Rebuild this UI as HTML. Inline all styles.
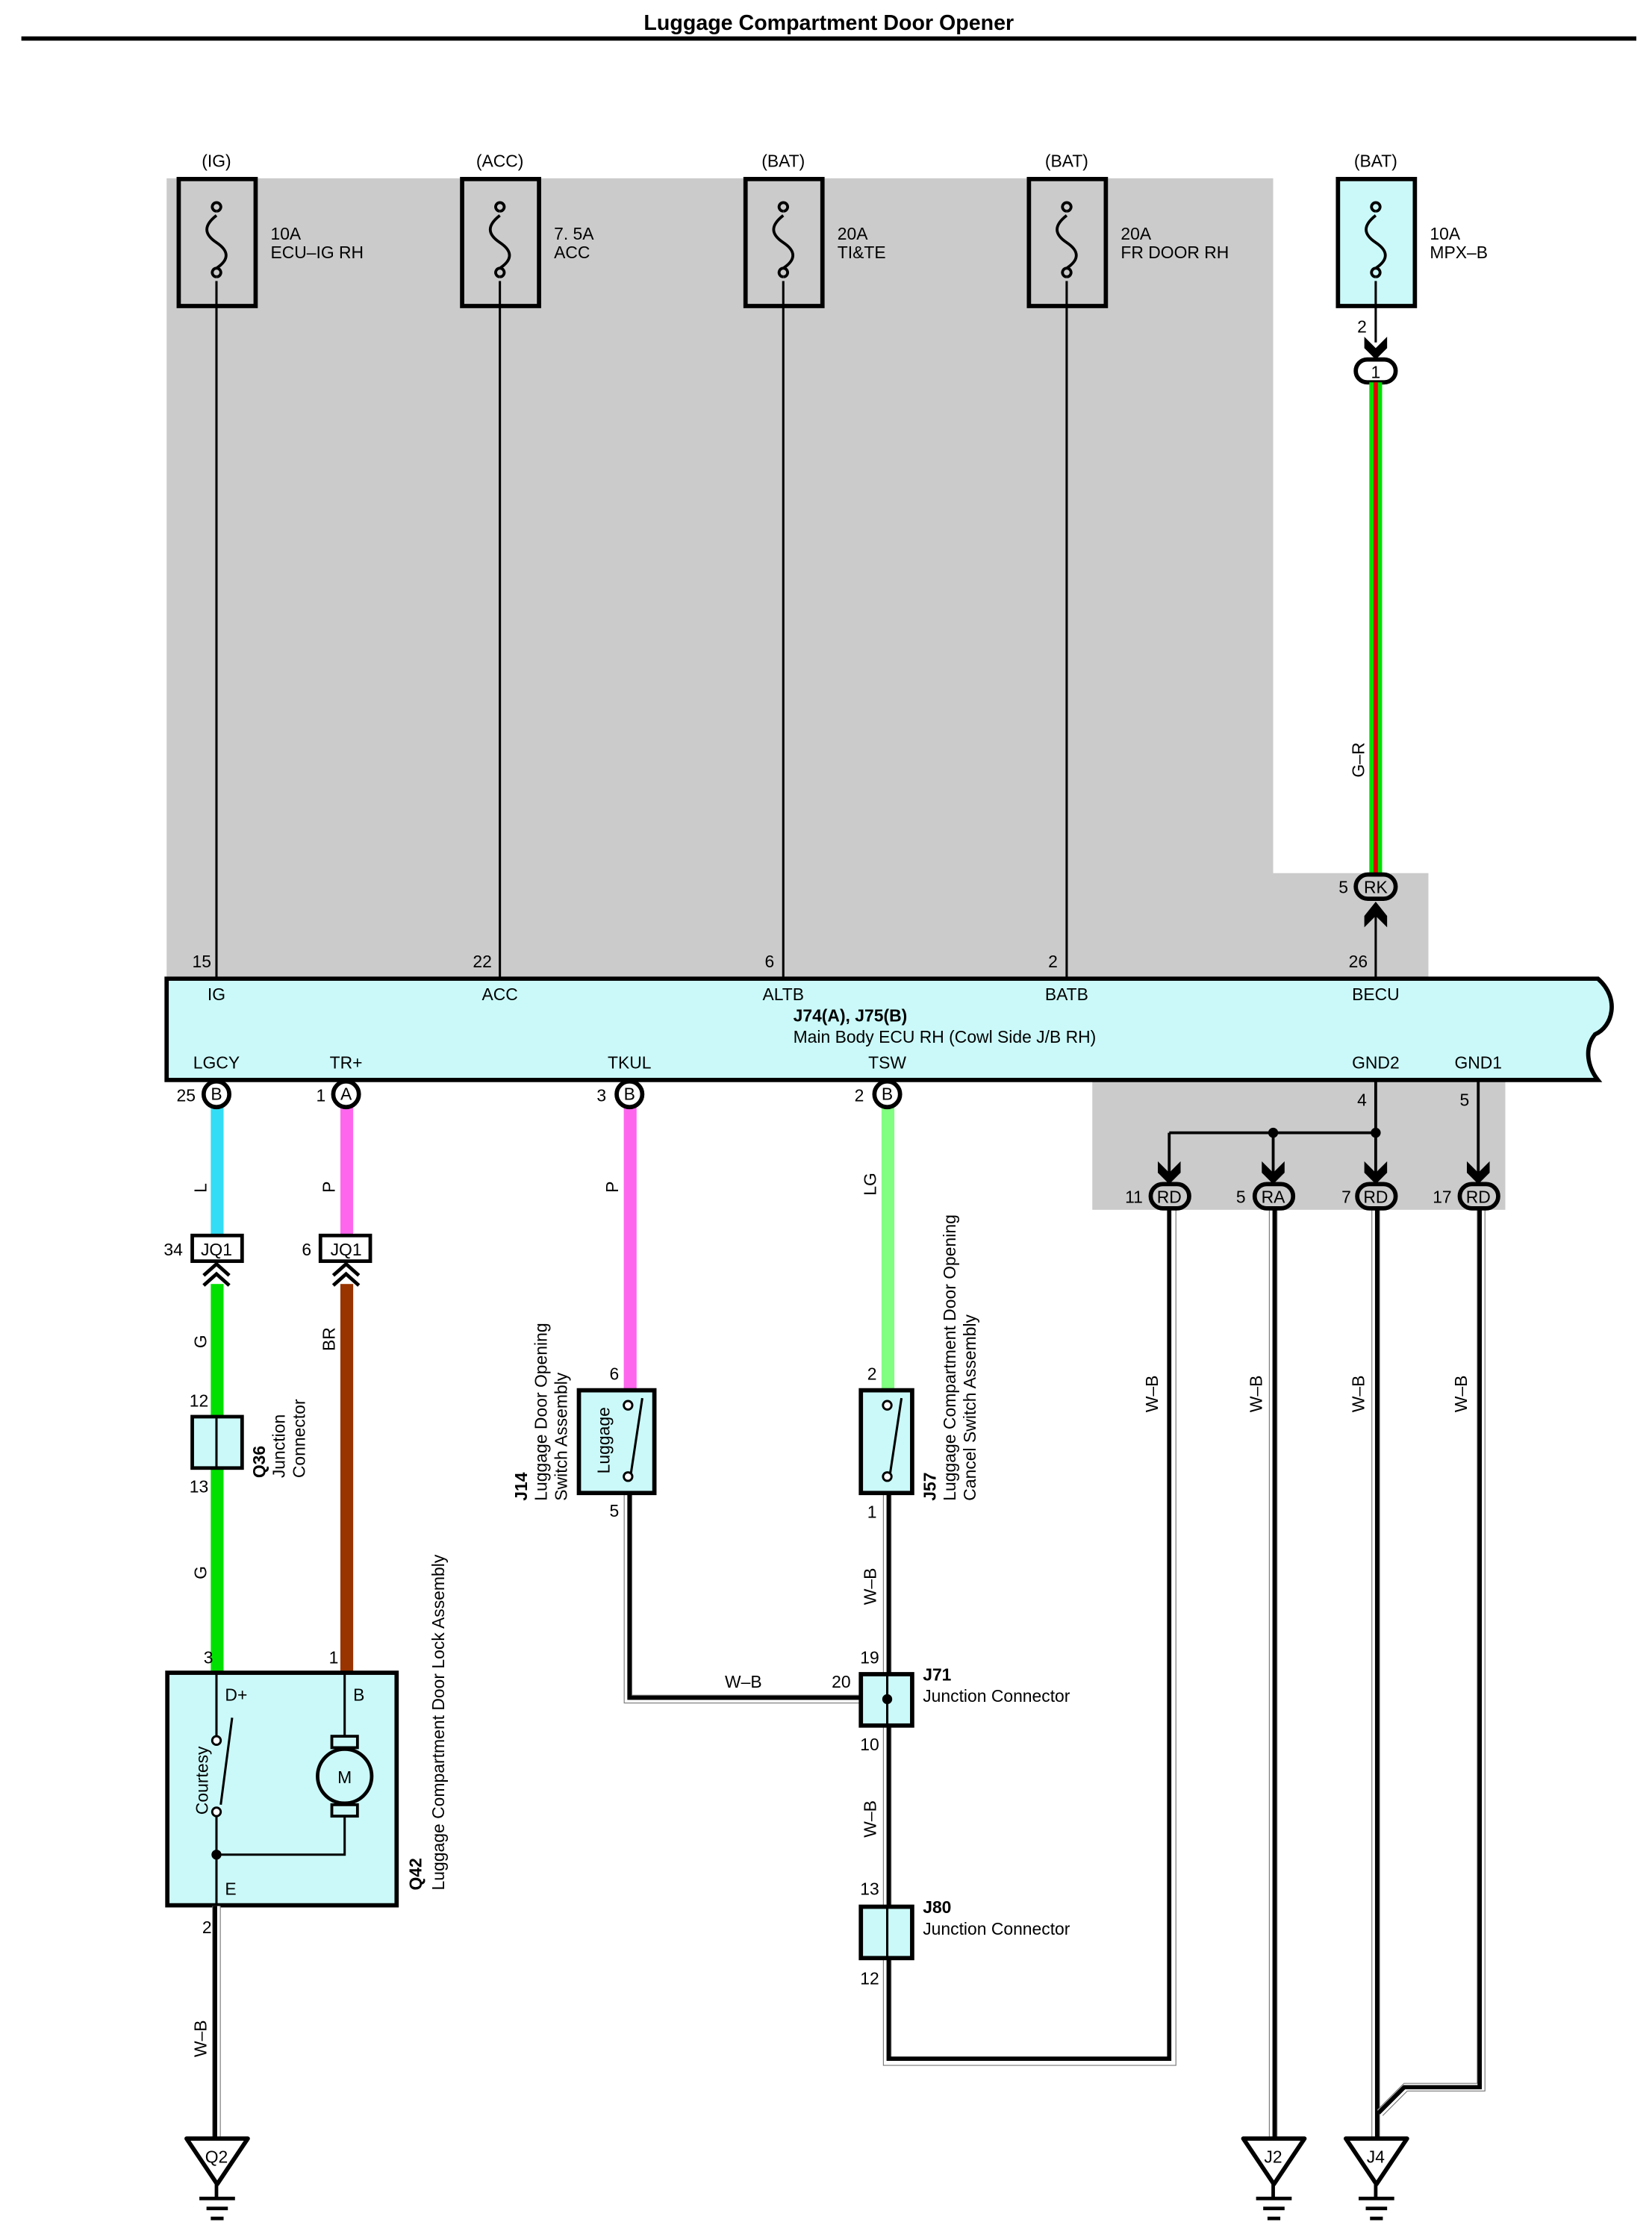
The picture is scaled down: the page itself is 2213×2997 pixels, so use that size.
<!DOCTYPE html>
<html><head><meta charset="utf-8"><style>
html,body{margin:0;padding:0;background:#fff;}
svg{display:block;}
text{font-family:"Liberation Sans",sans-serif;font-size:12px;fill:#000;}
.b{font-weight:bold;}
.wo{fill:none;stroke:#777;stroke-width:6;}
.wi{fill:none;stroke:#fff;stroke-width:4.8;}
.wc{fill:none;stroke:#000;stroke-width:3;}
.ln{stroke:#000;stroke-width:1.6;fill:none;}
.box{stroke:#000;stroke-width:3;}
</style></head><body>
<svg width="2213" height="2997" viewBox="0 0 1160 1568" preserveAspectRatio="none" xmlns="http://www.w3.org/2000/svg">
<rect width="1160" height="1568" fill="#fff"/>
<text x="582" y="21" text-anchor="middle" class="b" style="font-size:15px">Luggage Compartment Door Opener</text>
<rect x="15" y="25.5" width="1134" height="3" fill="#000"/>

<path d="M117 125 H894 V612 H1003 V690 H117 Z" fill="#cbcbcb"/>
<rect x="767" y="755" width="290" height="93" fill="#cbcbcb"/>

<g>
<text x="152" y="117" text-anchor="middle">(IG)</text>
<text x="351" y="117" text-anchor="middle">(ACC)</text>
<text x="550" y="117" text-anchor="middle">(BAT)</text>
<text x="749" y="117" text-anchor="middle">(BAT)</text>
<text x="966" y="117" text-anchor="middle">(BAT)</text>
<rect x="125.5" y="125.5" width="54" height="89" fill="#cbcbcb" class="box"/>
<rect x="324.5" y="125.5" width="54" height="89" fill="#cbcbcb" class="box"/>
<rect x="523.5" y="125.5" width="54" height="89" fill="#cbcbcb" class="box"/>
<rect x="722.5" y="125.5" width="54" height="89" fill="#cbcbcb" class="box"/>
<rect x="939.5" y="125.5" width="54" height="89" fill="#cbf9f9" class="box"/>
<text x="190" y="168">10A</text><text x="190" y="181">ECU–IG RH</text>
<text x="389" y="168">7. 5A</text><text x="389" y="181">ACC</text>
<text x="588" y="168">20A</text><text x="588" y="181">TI&amp;TE</text>
<text x="787" y="168">20A</text><text x="787" y="181">FR DOOR RH</text>
<text x="1004" y="168">10A</text><text x="1004" y="181">MPX–B</text>
</g>
<g class="ln" style="stroke-width:2">
<path d="M152 148 a3 3 0 1 1 0.1 0 M152 151 C143 158 143 164 152 170 C161 176 161 182 152 188 M152 194 a3 3 0 1 1 0.1 0"/>
<path d="M351 148 a3 3 0 1 1 0.1 0 M351 151 C342 158 342 164 351 170 C360 176 360 182 351 188 M351 194 a3 3 0 1 1 0.1 0"/>
<path d="M550 148 a3 3 0 1 1 0.1 0 M550 151 C541 158 541 164 550 170 C559 176 559 182 550 188 M550 194 a3 3 0 1 1 0.1 0"/>
<path d="M749 148 a3 3 0 1 1 0.1 0 M749 151 C740 158 740 164 749 170 C758 176 758 182 749 188 M749 194 a3 3 0 1 1 0.1 0"/>
<path d="M966 148 a3 3 0 1 1 0.1 0 M966 151 C957 158 957 164 966 170 C975 176 975 182 966 188 M966 194 a3 3 0 1 1 0.1 0"/>
</g>
<g class="ln">
<path d="M152 197 V686 M351 197 V686 M550 197 V686 M749 197 V686"/>
<path d="M966 197 V240 M966 686 V640"/>
</g>
<text x="135" y="678">15</text><text x="332" y="678">22</text><text x="537" y="678">6</text><text x="736" y="678">2</text><text x="947" y="678">26</text>
<text x="953" y="233">2</text>
<path d="M958 236 L966 244 L974 236 L974 244 L966 252 L958 244 Z" fill="#000"/>
<rect x="952" y="252" width="28" height="16" rx="8" fill="#fff" stroke="#000" stroke-width="3"/>
<text x="966" y="265" text-anchor="middle">1</text>
<rect x="961.5" y="268" width="9" height="346" fill="#00e000"/>
<rect x="964.5" y="268" width="3" height="346" fill="#e00000"/>
<text transform="translate(958,545) rotate(-90)">G–R</text>
<rect x="952" y="613" width="28" height="17" rx="8.5" fill="#cbcbcb" stroke="#000" stroke-width="3"/>
<text x="966" y="626" text-anchor="middle">RK</text>
<text x="940" y="626">5</text>
<path d="M958 642 L966 632 L974 642 L974 650 L966 642 L958 650 Z" fill="#000"/>

<path d="M117 686 H1122 C1138 700 1132 720 1120 725 C1112 735 1115 748 1122 757 H117 Z" fill="#cbf9f9" stroke="#000" stroke-width="3"/>
<g text-anchor="middle">
<text x="152" y="701">IG</text><text x="351" y="701">ACC</text><text x="550" y="701">ALTB</text><text x="749" y="701">BATB</text><text x="966" y="701">BECU</text>
<text x="152" y="749">LGCY</text><text x="243" y="749">TR+</text><text x="442" y="749">TKUL</text><text x="623" y="749">TSW</text><text x="966" y="749">GND2</text><text x="1038" y="749">GND1</text>
</g>
<text x="557" y="716" class="b">J74(A), J75(B)</text>
<text x="557" y="731">Main Body ECU RH (Cowl Side J/B RH)</text>

<rect x="148" y="776" width="9" height="90" fill="#33ddf5"/>
<rect x="239" y="776" width="9" height="90" fill="#ff66ee"/>
<rect x="438" y="776" width="9" height="198" fill="#ff66ee"/>
<rect x="619" y="776" width="9" height="198" fill="#80ff80"/>
<rect x="148" y="900" width="9" height="272" fill="#00e000"/>
<rect x="239" y="900" width="9" height="272" fill="#993300"/>

<g fill="#fff" stroke="#000" stroke-width="3">
<circle cx="152" cy="767" r="9"/><circle cx="243" cy="767" r="9"/><circle cx="442" cy="767" r="9"/><circle cx="623" cy="767" r="9"/>
</g>
<g text-anchor="middle"><text x="152" y="771">B</text><text x="243" y="771">A</text><text x="442" y="771">B</text><text x="623" y="771">B</text></g>
<text x="124" y="772">25</text><text x="222" y="772">1</text><text x="419" y="772">3</text><text x="600" y="772">2</text>
<text transform="translate(145,836) rotate(-90)">L</text>
<text transform="translate(235,836) rotate(-90)">P</text>
<text transform="translate(434,836) rotate(-90)">P</text>
<text transform="translate(615,838) rotate(-90)">LG</text>

<rect x="135" y="866" width="35" height="18" fill="#fff" stroke="#000" stroke-width="2.5"/>
<rect x="225" y="866" width="35" height="18" fill="#fff" stroke="#000" stroke-width="2.5"/>
<text x="152" y="880" text-anchor="middle">JQ1</text><text x="243" y="880" text-anchor="middle">JQ1</text>
<text x="115" y="880">34</text><text x="212" y="880">6</text>
<path class="ln" style="stroke-width:2.5" d="M143 894 L152 886 L161 894 M143 901 L152 893 L161 901 M234 894 L243 886 L252 894 M234 901 L243 893 L252 901"/>
<text transform="translate(145,945) rotate(-90)">G</text>
<text transform="translate(235,947) rotate(-90)">BR</text>
<rect x="135" y="993" width="35" height="36" fill="#cbf9f9" stroke="#000" stroke-width="2.5"/>
<path class="ln" d="M152 993 V1029"/>
<text x="133" y="986">12</text><text x="133" y="1046">13</text>
<text transform="translate(186,1036) rotate(-90)" class="b">Q36</text>
<text transform="translate(200,1036) rotate(-90)">Junction</text>
<text transform="translate(214,1036) rotate(-90)">Connector</text>
<text transform="translate(145,1107) rotate(-90)">G</text>

<rect x="117.5" y="1172.5" width="161" height="163" fill="#cbf9f9" stroke="#000" stroke-width="3"/>
<text x="143" y="1166">3</text><text x="231" y="1166">1</text>
<text x="158" y="1192">D+</text><text x="248" y="1192">B</text><text x="158" y="1328">E</text>
<text transform="translate(146,1272) rotate(-90)">Courtesy</text>
<path class="ln" d="M152 1172 V1217 M152 1273 V1336 M163 1204 L155 1265 M152 1300 H242 V1273 M242 1172 V1217"/>
<circle cx="152" cy="1220" r="3" fill="#fff" stroke="#000" stroke-width="1.5"/>
<circle cx="152" cy="1270" r="3" fill="#fff" stroke="#000" stroke-width="1.5"/>
<circle cx="152" cy="1300" r="3.5" fill="#000"/>
<rect x="233" y="1217" width="18" height="8" fill="#cbf9f9" stroke="#000" stroke-width="2"/>
<rect x="233" y="1265" width="18" height="8" fill="#cbf9f9" stroke="#000" stroke-width="2"/>
<circle cx="242" cy="1245" r="19" fill="#cbf9f9" stroke="#000" stroke-width="2.5"/>
<text x="242" y="1250" text-anchor="middle">M</text>
<text transform="translate(296,1325) rotate(-90)" class="b">Q42</text>
<text transform="translate(312,1325) rotate(-90)">Luggage Compartment Door Lock Assembly</text>

<g>
<path class="wo" d="M152 1336 V1500"/><path class="wi" d="M152 1336 V1500"/><path class="wc" d="M151 1336 V1500"/>
<path class="wo" d="M441 1047 V1191 H623"/><path class="wi" d="M441 1047 V1191 H623"/><path class="wc" d="M442 1047 V1190 H623"/>
<path class="wo" d="M623 1047 V1173 M623 1210 V1336 M623 1373 V1445 H823 V848"/><path class="wi" d="M623 1047 V1173 M623 1210 V1336 M623 1373 V1445 H823 V848"/><path class="wc" d="M624 1047 V1173 M624 1210 V1336 M624 1373 V1443 H821 V848"/>
<path class="wo" d="M894 848 V1500"/><path class="wi" d="M894 848 V1500"/><path class="wc" d="M895 848 V1500"/>
<path class="wo" d="M966 848 V1500"/><path class="wi" d="M966 848 V1500"/><path class="wc" d="M967 848 V1500"/>
<path class="wo" d="M1040 848 V1463 H987 L969 1481"/><path class="wi" d="M1040 848 V1463 H987 L969 1481"/><path class="wc" d="M1039 848 V1463 H986 L968 1481"/>
</g>
<text x="142" y="1355">2</text>
<text transform="translate(145,1442) rotate(-90)">W–B</text>

<rect x="406.5" y="974.5" width="53" height="72" fill="#cbf9f9" stroke="#000" stroke-width="3"/>
<path class="ln" d="M451 980 L443 1033"/>
<circle cx="441" cy="985" r="3" fill="#fff" stroke="#000" stroke-width="1.5"/>
<circle cx="441" cy="1035" r="3" fill="#fff" stroke="#000" stroke-width="1.5"/>
<text transform="translate(428,1033) rotate(-90)">Luggage</text>
<text x="428" y="967">6</text><text x="428" y="1063">5</text>
<text transform="translate(370,1052) rotate(-90)" class="b">J14</text>
<text transform="translate(384,1052) rotate(-90)">Luggage Door Opening</text>
<text transform="translate(398,1052) rotate(-90)">Switch Assembly</text>
<text x="509" y="1183">W–B</text><text x="584" y="1183">20</text>

<rect x="604.5" y="974.5" width="36" height="72" fill="#cbf9f9" stroke="#000" stroke-width="3"/>
<path class="ln" d="M633 980 L625 1033"/>
<circle cx="623" cy="985" r="3" fill="#fff" stroke="#000" stroke-width="1.5"/>
<circle cx="623" cy="1035" r="3" fill="#fff" stroke="#000" stroke-width="1.5"/>
<text x="609" y="967">2</text><text x="609" y="1064">1</text>
<text transform="translate(657,1052) rotate(-90)" class="b">J57</text>
<text transform="translate(671,1052) rotate(-90)">Luggage Compartment Door Opening</text>
<text transform="translate(685,1052) rotate(-90)">Cancel Switch Assembly</text>
<text transform="translate(615,1125) rotate(-90)">W–B</text>

<rect x="604.5" y="1173.5" width="36" height="36" fill="#cbf9f9" stroke="#000" stroke-width="3"/>
<path class="ln" d="M623 1173 V1210"/><circle cx="623" cy="1191" r="3.5" fill="#000"/>
<text x="604" y="1166">19</text><text x="604" y="1227">10</text>
<text x="648" y="1178" class="b">J71</text><text x="648" y="1193">Junction Connector</text>
<text transform="translate(615,1288) rotate(-90)">W–B</text>

<rect x="604.5" y="1336.5" width="36" height="36" fill="#cbf9f9" stroke="#000" stroke-width="3"/>
<path class="ln" d="M623 1336 V1373"/>
<text x="604" y="1328">13</text><text x="604" y="1391">12</text>
<text x="648" y="1341" class="b">J80</text><text x="648" y="1356">Junction Connector</text>

<path class="ln" style="stroke-width:2" d="M966 757 V826 M1038 757 V826 M821 794 H966 M821 794 V826 M894 794 V826"/>
<circle cx="894" cy="794" r="3.5" fill="#000"/><circle cx="966" cy="794" r="3.5" fill="#000"/>
<text x="953" y="775">4</text><text x="1025" y="775">5</text>
<g fill="#000">
<path d="M813 814 L821 822 L829 814 L829 822 L821 830 L813 822 Z"/>
<path d="M886 814 L894 822 L902 814 L902 822 L894 830 L886 822 Z"/>
<path d="M958 814 L966 822 L974 814 L974 822 L966 830 L958 822 Z"/>
<path d="M1030 814 L1038 822 L1046 814 L1046 822 L1038 830 L1030 822 Z"/>
</g>
<g fill="#cbcbcb" stroke="#000" stroke-width="3">
<rect x="808" y="830" width="27" height="17" rx="8.5"/>
<rect x="881" y="830" width="27" height="17" rx="8.5"/>
<rect x="953" y="830" width="27" height="17" rx="8.5"/>
<rect x="1025" y="830" width="27" height="17" rx="8.5"/>
</g>
<g text-anchor="middle"><text x="821" y="843">RD</text><text x="894" y="843">RA</text><text x="966" y="843">RD</text><text x="1038" y="843">RD</text></g>
<text x="790" y="843">11</text><text x="868" y="843">5</text><text x="942" y="843">7</text><text x="1006" y="843">17</text>
<text transform="translate(813,990) rotate(-90)">W–B</text>
<text transform="translate(886,990) rotate(-90)">W–B</text>
<text transform="translate(958,990) rotate(-90)">W–B</text>
<text transform="translate(1030,990) rotate(-90)">W–B</text>

<g>
<path d="M131 1499 H174 L152.5 1531 Z" fill="#fff" stroke="#000" stroke-width="3" stroke-linejoin="round"/>
<text x="152" y="1516" text-anchor="middle">Q2</text>
<path class="ln" style="stroke-width:2.5" d="M152 1531 V1541 M140 1541 H165 M145 1548 H160 M148 1555 H157"/>
<path d="M873 1499 H916 L894.5 1531 Z" fill="#fff" stroke="#000" stroke-width="3" stroke-linejoin="round"/>
<text x="894" y="1516" text-anchor="middle">J2</text>
<path class="ln" style="stroke-width:2.5" d="M894 1531 V1541 M882 1541 H907 M887 1548 H902 M890 1555 H899"/>
<path d="M945 1499 H988 L966.5 1531 Z" fill="#fff" stroke="#000" stroke-width="3" stroke-linejoin="round"/>
<text x="966" y="1516" text-anchor="middle">J4</text>
<path class="ln" style="stroke-width:2.5" d="M966 1531 V1541 M954 1541 H979 M959 1548 H974 M962 1555 H971"/>
</g>
</svg>
</body></html>
